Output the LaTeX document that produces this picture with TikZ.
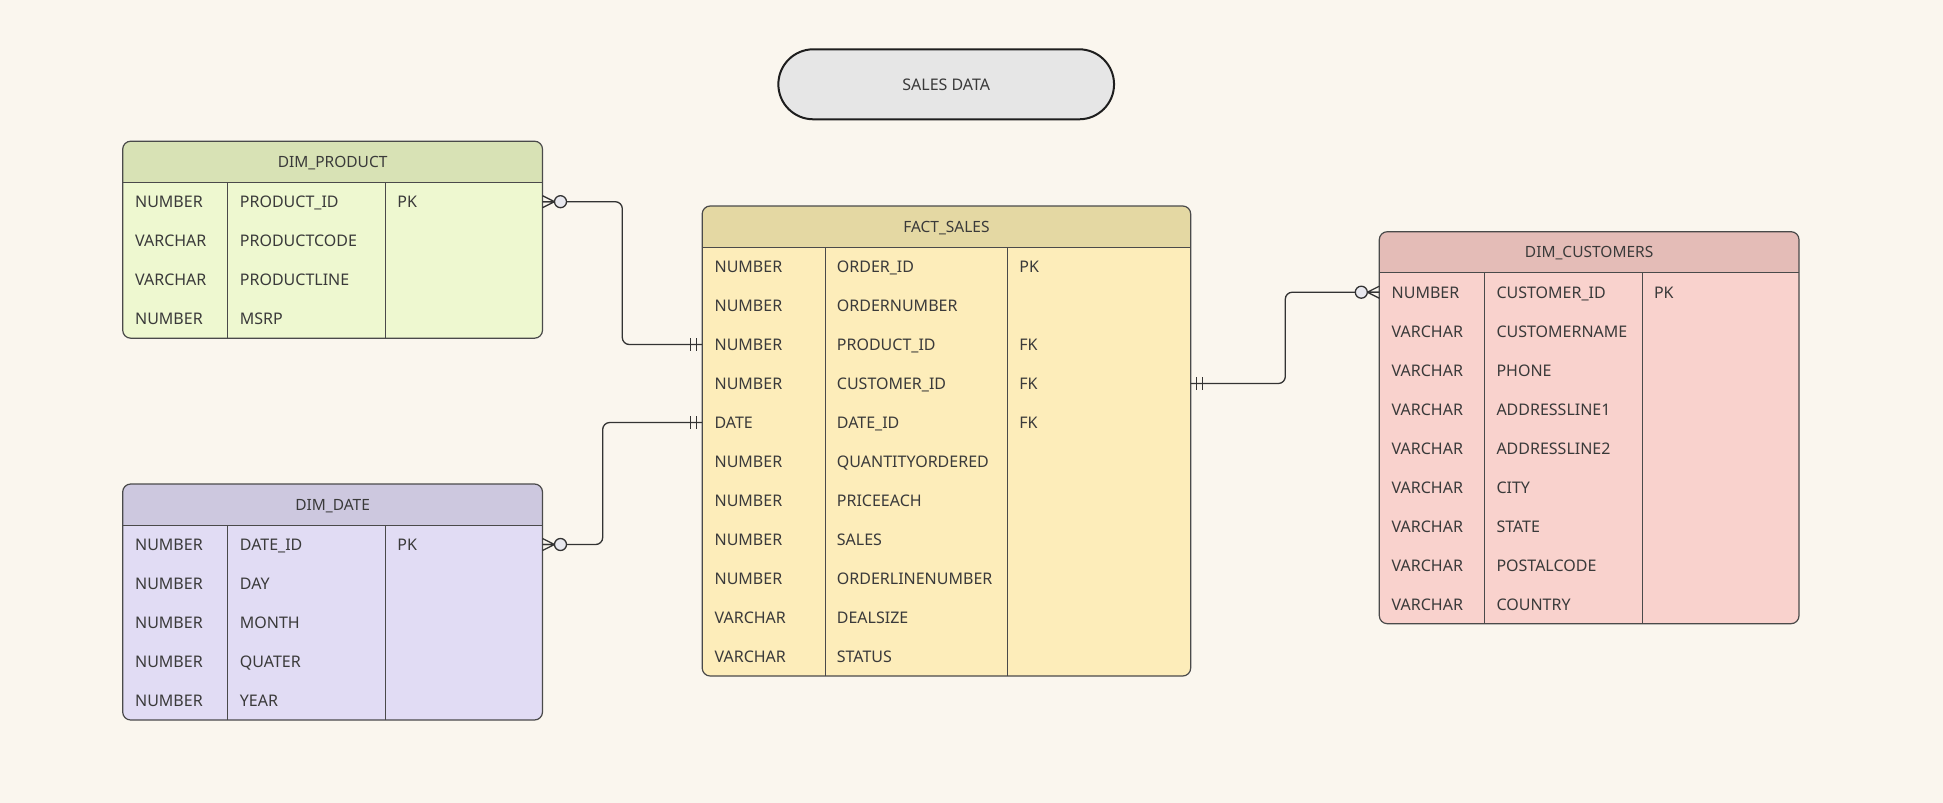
\documentclass[tikz,border=0pt]{standalone}
\usepackage{fontspec}
\setmainfont{Noto Sans}
\usetikzlibrary{calc,fit}
\definecolor{bgc}{HTML}{FAF6EE}
\definecolor{prodH}{HTML}{D8E2B5}
\definecolor{prodB}{HTML}{EEF8D0}
\definecolor{factH}{HTML}{E4D8A3}
\definecolor{factB}{HTML}{FDEDBA}
\definecolor{custH}{HTML}{E4BCB7}
\definecolor{custB}{HTML}{F9D2CD}
\definecolor{dateH}{HTML}{CDC8DF}
\definecolor{dateB}{HTML}{E1DCF4}
\definecolor{pillfill}{HTML}{E6E6E6}
\definecolor{pillc}{HTML}{1E1E1E}
\definecolor{circc}{HTML}{E8E8EE}
\definecolor{lnc}{HTML}{4A4A4A}
\definecolor{relc}{HTML}{333333}
\definecolor{txtc}{HTML}{3A3A3A}
\tikzset{
  outline/.style={draw=lnc, line width=1.2bp},
  grid/.style={draw=lnc, line width=1bp},
  rel/.style={draw=relc, line width=1.3bp},
  celltxt/.style={anchor=base west, inner sep=0pt, text=txtc, font=\fontsize{16bp}{19bp}\selectfont},
  headtxt/.style={anchor=base, inner sep=0pt, text=txtc, font=\fontsize{15.5bp}{18bp}\selectfont},
  pill/.style={draw=pillc, line width=2bp, fill=pillfill, minimum width=335.7bp, minimum height=70bp,
    rounded corners=35bp, text=txtc, inner sep=0pt, font=\fontsize{16bp}{19bp}\selectfont},
}
% #1 name, #2 x0, #3 y0, #4 x1, #5 nrows, #6 c1, #7 c2, #8 colour prefix, #9 title
\newcommand{\ertable}[9]{%
  \pgfmathsetmacro{\erhb}{#3+41}%
  \pgfmathsetmacro{\erbot}{#3+41+39*#5}%
  \coordinate (#1-nw) at (#2,#3);
  \coordinate (#1-se) at (#4,\erbot);
  \node[fit=(#1-nw)(#1-se), inner sep=0pt, fill=#8B, rounded corners=8bp] (#1) {};
  \begin{scope}
    \clip[rounded corners=8bp] (#1-nw) rectangle (#1-se);
    \fill[#8H] (#2,#3) rectangle (#4,\erhb);
  \end{scope}
  \draw[grid] (#2,\erhb) -- (#4,\erhb) (#6,\erhb) -- (#6,\erbot) (#7,\erhb) -- (#7,\erbot);
  \draw[outline, rounded corners=8bp] (#1-nw) rectangle (#1-se);
  \node[headtxt] (#1-title) at ({(#2+#4)/2},\erhb-15) {#9};
  \foreach \i in {1,...,#5} {
    \coordinate (#1-L\i) at (#2, \erhb+19.5+39*\i-39);
    \coordinate (#1-R\i) at (#4, \erhb+19.5+39*\i-39);
  }
}
% #1 name, #2 offset of name column, #3 list
\newcommand{\errows}[3]{%
  \foreach \a/\b [count=\i] in {#3} {
    \path (#1-L\i) ++(12.2,6) node[celltxt] (#1-t\i) {\a};
    \path (#1-L\i) ++(#2,6) node[celltxt] (#1-n\i) {\b};
  }
}
\newcommand{\zeromany}[2]{%
  \begin{scope}[shift={(#1)}, xscale=#2]
    \draw[rel] (0,-6) -- (12,0) -- (0,6) (0,0) -- (12,0);
    \filldraw[rel, fill=circc] (18,0) circle (6);
  \end{scope}}
\newcommand{\oneone}[2]{%
  \begin{scope}[shift={(#1)}, xscale=#2]
    \draw[rel] (6,-6.5) -- (6,6.5) (12,-6.5) -- (12,6.5);
  \end{scope}}
\begin{document}
\begin{tikzpicture}[x=1bp, y=-1bp]
\useasboundingbox (0,0) rectangle (1943,803);
\fill[bgc] (0,0) rectangle (1943,803);

\node[pill] (title) at (946.2,84.3) {SALES DATA};

\ertable{prod}{122.7}{141.2}{542.5}{4}{227.5}{385.5}{prod}{DIM\_PRODUCT}
\errows{prod}{117}{NUMBER/PRODUCT\_ID, VARCHAR/PRODUCTCODE, VARCHAR/PRODUCTLINE, NUMBER/MSRP}
\path (prod-L1) ++(274.5,6) node[celltxt] (prod-k1) {PK};

\ertable{date}{122.7}{484}{542.5}{5}{227.5}{385.5}{date}{DIM\_DATE}
\errows{date}{117}{NUMBER/DATE\_ID, NUMBER/DAY, NUMBER/MONTH, NUMBER/QUATER, NUMBER/YEAR}
\path (date-L1) ++(274.5,6) node[celltxt] (date-k1) {PK};

\ertable{fact}{702.2}{206}{1190.7}{11}{825}{1007.7}{fact}{FACT\_SALES}
\errows{fact}{134.5}{NUMBER/ORDER\_ID, NUMBER/ORDERNUMBER, NUMBER/PRODUCT\_ID, NUMBER/CUSTOMER\_ID, DATE/DATE\_ID, NUMBER/QUANTITYORDERED, NUMBER/PRICEEACH, NUMBER/SALES, NUMBER/ORDERLINENUMBER, VARCHAR/DEALSIZE, VARCHAR/STATUS}
\path (fact-L1) ++(317,6) node[celltxt] (fact-k1) {PK};
\path (fact-L3) ++(317,6) node[celltxt] (fact-k3) {FK};
\path (fact-L4) ++(317,6) node[celltxt] (fact-k4) {FK};
\path (fact-L5) ++(317,6) node[celltxt] (fact-k5) {FK};

\ertable{cust}{1379.3}{231.7}{1799}{9}{1484}{1642}{cust}{DIM\_CUSTOMERS}
\errows{cust}{117}{NUMBER/CUSTOMER\_ID, VARCHAR/CUSTOMERNAME, VARCHAR/PHONE, VARCHAR/ADDRESSLINE1, VARCHAR/ADDRESSLINE2, VARCHAR/CITY, VARCHAR/STATE, VARCHAR/POSTALCODE, VARCHAR/COUNTRY}
\path (cust-L1) ++(274.5,6) node[celltxt] (cust-k1) {PK};

\coordinate (b1) at (622.3,0);
\coordinate (b2) at (602.7,0);
\coordinate (b3) at (1285.3,0);
\draw[rel, rounded corners=7bp] (prod-R1) -| (b1 |- fact-L3) -- (fact-L3);
\draw[rel, rounded corners=7bp] (date-R1) -| (b2 |- fact-L5) -- (fact-L5);
\draw[rel, rounded corners=7bp] (fact-R4) -| (b3 |- cust-L1) -- (cust-L1);

\zeromany{prod-R1}{1}
\oneone{fact-L3}{-1}
\zeromany{date-R1}{1}
\oneone{fact-L5}{-1}
\oneone{fact-R4}{1}
\zeromany{cust-L1}{-1}
\end{tikzpicture}
\end{document}
